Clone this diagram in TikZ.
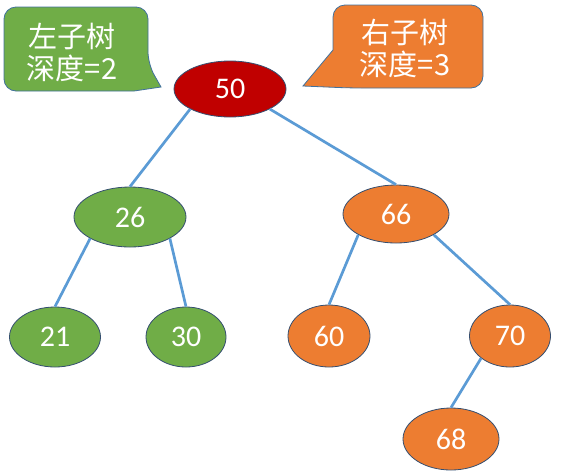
\documentclass[tikz,border=0pt]{standalone}
\usepackage{fontspec}
\usepackage{xcolor}
\usetikzlibrary{shapes.geometric}
\newfontfamily\numfont{Carlito}
\newfontfamily\cjkfont{Noto Sans CJK SC}
\definecolor{leafgreen}{RGB}{112,173,71}
\definecolor{rightorange}{RGB}{237,125,49}
\definecolor{rootred}{RGB}{192,0,0}
\definecolor{nodeline}{RGB}{52,78,112}
\definecolor{boxline}{RGB}{65,113,156}
\definecolor{edgeblue}{RGB}{91,155,213}
\tikzset{
  treenode/.style={ellipse, draw=nodeline, line width=0.8pt, inner sep=0pt,
    text=white, font=\numfont\fontsize{30}{32}\selectfont},
  treeedge/.style={draw=edgeblue, line width=2.7pt},
  callbox/.style={draw=boxline, line width=0.8pt},
  calltext/.style={text=white, align=center, inner sep=0pt,
    font=\cjkfont\fontsize{29}{32}\selectfont}
}
\begin{document}
\begin{tikzpicture}[x=1pt,y=-1pt]
\useasboundingbox (0,0) rectangle (561,472);

% Callouts (shapes)
\filldraw[callbox, fill=leafgreen] (4,50) [rounded corners=12pt] -- (4,7) -- (148,7)
  -- (148,64) [sharp corners] -- (161,87) -- (134,91) [rounded corners=12pt] -- (4,91) -- cycle;
\node[calltext] (ltxt) at (72,52) {左子树\\深度=2};
\filldraw[callbox, fill=rightorange] (408,5) [rounded corners=12pt] -- (483,5) -- (483,88)
  -- (350,88) [sharp corners] -- (303,86) -- (333,50) [rounded corners=12pt] -- (333,5) -- cycle;
\node[calltext] (rtxt) at (405,48) {右子树\\深度=3};

% Tree (nodes)
\node[treenode, fill=rootred, minimum width=112, minimum height=56] (n50) at (230,89) {50};
\node[treenode, fill=leafgreen, minimum width=112, minimum height=60] (n26) at (130,217) {26};
\node[treenode, fill=rightorange, minimum width=106, minimum height=58] (n66) at (396,214) {66};
\node[treenode, fill=leafgreen, minimum width=91, minimum height=60] (n21) at (55,337) {21};
\node[treenode, fill=leafgreen, minimum width=80, minimum height=60] (n30) at (186,337) {30};
\node[treenode, fill=rightorange, minimum width=82, minimum height=62] (n60) at (329,336) {60};
\node[treenode, fill=rightorange, minimum width=81, minimum height=62] (n70) at (510,336) {70};
\node[treenode, fill=rightorange, minimum width=96, minimum height=62] (n68) at (451,439) {68};

% Edges
\draw[treeedge] (n50.south west) -- (n26.north);
\draw[treeedge] (n50.south east) -- (n66.north);
\draw[treeedge] (n26.south west) -- (n21.north);
\draw[treeedge] (n26.south east) -- (n30.north);
\draw[treeedge] (n66.south west) -- (n60.north);
\draw[treeedge] (n66.south east) -- (n70.north);
\draw[treeedge] (n70.south west) -- (n68.north);
\end{tikzpicture}
\end{document}
